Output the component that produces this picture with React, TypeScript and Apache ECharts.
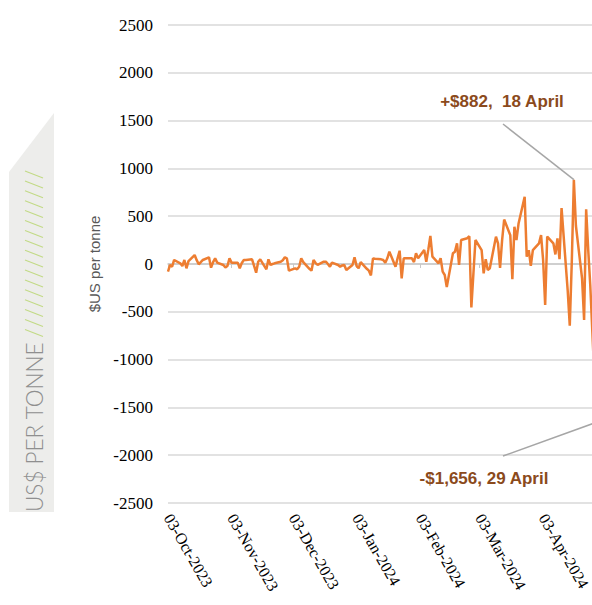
import React, { useEffect, useRef } from "react";
import * as echarts from "echarts";

// ---- data (US$ per tonne, daily weekday values) ----
const octDays = [3, 4, 5, 6, 9, 10, 11, 12, 13, 16, 17, 18, 19, 20, 23, 24, 25, 26, 27, 30, 31];
const octVals = [-80, -10, -28, 42, 7, -21, 42, -45, 30, 94, 40, -3, 20, 42, 70, -38, 20, 59, 14, -10, -35];

const novDays = [1, 2, 3, 6, 7, 8, 9, 10, 13, 14, 15, 16, 17, 20, 21, 22, 23, 24, 27, 28, 29, 30];
const novVals = [-21, 59, 14, 14, -45, 10, 42, 42, 49, -20, -91, 24, 49, -56, 49, -10, 0, 7, 24, 40, 70, 59];

const decDays = [1, 4, 5, 6, 7, 8, 11, 12, 13, 14, 15, 18, 19, 20, 21, 22, 25, 26, 27, 28, 29];
const decVals = [-70, -45, -56, -28, 59, 20, -50, -70, 42, 10, -10, 24, 24, 0, -28, 14, -10, -28, -15, -10, -63];

const janDays = [1, 2, 3, 4, 5, 8, 9, 10, 11, 12, 15, 16, 17, 18, 19, 22, 23, 24, 25, 26, 29, 30, 31];
const janVals = [-10, 70, -20, -45, 20, -50, -70, -120, 59, 55, 49, 42, 14, 60, 129, -28, 59, 139, -150, 59, 59, 59, 20];

const febDays = [1, 2, 5, 6, 7, 8, 9, 12, 13, 14, 15, 16, 19, 20, 21, 22, 23, 26, 27, 28, 29];
const febVals = [112, 59, 146, 24, 150, 293, 77, 7, 60, -80, -115, -240, 112, 129, 216, -10, 251, 270, 290, -455, -98];

const marDays = [1, 4, 5, 6, 7, 8, 11, 12, 13, 14, 15, 18, 19, 20, 21, 22, 25, 26, 27, 28, 29];
const marVals = [251, 146, -98, 50, -63, -45, 286, 216, -40, 250, 465, 300, -160, 390, 251, 420, 704, 77, 146, -20, 146];

const aprDays = [1, 2, 3, 4, 5, 8, 9, 10, 11, 12, 15, 16, 17, 18, 19, 22, 23, 24, 25, 26, 29, 30];
const aprVals = [216, 303, 42, -429, 286, 216, 100, 268, 50, 585, -280, -645, 30, 882, 400, -150, -586, 572, 150, -220, -1656, -300];

// tick labels: the 3rd of each month
const tickDates = ["2023-10-03", "2023-11-03", "2023-12-03", "2024-01-03", "2024-02-03", "2024-03-03", "2024-04-03"];
const axisStart = "2023-10-03";
const axisEnd = "2024-05-31";

const yMin = -2500;
const yMax = 2500;
const yStep = 500;

// annotations
const annotHigh = { date: "2024-04-18", value: 882, label: "+$882,  18 April" };
const annotLow = { date: "2024-04-29", value: -1656, label: "-$1,656, 29 April" };

const MONTHS = ["Jan", "Feb", "Mar", "Apr", "May", "Jun", "Jul", "Aug", "Sep", "Oct", "Nov", "Dec"];

function iso(s: string) {
  const [y, m, d] = s.split("-").map(Number);
  return Date.UTC(y, m - 1, d);
}

function monthSeries(year: number, month: number, days: number[], vals: number[]) {
  return days.map((d, i) => [Date.UTC(year, month, d), vals[i]]);
}

const seriesData = [
  ...monthSeries(2023, 9, octDays, octVals),
  ...monthSeries(2023, 10, novDays, novVals),
  ...monthSeries(2023, 11, decDays, decVals),
  ...monthSeries(2024, 0, janDays, janVals),
  ...monthSeries(2024, 1, febDays, febVals),
  ...monthSeries(2024, 2, marDays, marVals),
  ...monthSeries(2024, 3, aprDays, aprVals),
];

function fmtDate(v: number) {
  const d = new Date(v);
  const dd = String(d.getUTCDate()).padStart(2, "0");
  return `${dd}-${MONTHS[d.getUTCMonth()]}-${d.getUTCFullYear()}`;
}

export default function App() {
  const ref = useRef<HTMLDivElement>(null);

  useEffect(() => {
    if (!ref.current) return;
    const chart = echarts.init(ref.current, null, { renderer: "svg" });
    const ticks = tickDates.map(iso);

    const hatch: any[] = [];
    for (let i = 0; i < 17; i++) {
      hatch.push({
        type: "line",
        shape: { x1: 25, y1: 171 + i * 9.9, x2: 43, y2: 178 + i * 9.9 },
        style: { stroke: "#c2da86", lineWidth: 1.1 },
        silent: true,
      });
    }

    chart.setOption({
      animation: false,
      backgroundColor: "#ffffff",
      grid: {
        left: 168,
        top: 25,
        bottom: 102,
        right: -70,
        containLabel: false,
        outerBoundsMode: "none",
      },
      xAxis: [
        {
          type: "value",
          min: iso(axisStart),
          max: iso(axisEnd),
          position: "bottom",
          axisLine: { show: false, onZero: false },
          axisTick: { show: false },
          splitLine: { show: false },
          axisLabel: {
            show: true,
            customValues: ticks,
            formatter: (v: number) => fmtDate(v),
            rotate: -60,
            margin: 12,
            fontFamily: "'Liberation Serif', 'Times New Roman', serif",
            fontSize: 16,
            color: "#000000",
            hideOverlap: false,
          },
        },
        {
          type: "value",
          min: iso(axisStart),
          max: iso(axisEnd),
          position: "bottom",
          axisLine: { show: true, onZero: true, lineStyle: { color: "#c8c8c8", width: 1.5 } },
          axisTick: { show: true, customValues: ticks, length: 4, lineStyle: { color: "#c8c8c8", width: 1 } },
          axisLabel: { show: false },
          splitLine: { show: false },
        },
      ],
      yAxis: {
        type: "value",
        min: yMin,
        max: yMax,
        interval: yStep,
        name: "$US per tonne",
        nameLocation: "middle",
        nameRotate: 90,
        nameGap: 63,
        nameTextStyle: {
          fontFamily: "'Liberation Sans', Arial, sans-serif",
          fontSize: 15,
          color: "#595959",
        },
        axisLine: { show: false },
        axisTick: { show: false },
        axisLabel: {
          margin: 15,
          formatter: (v: number) => String(v),
          fontFamily: "'Liberation Serif', 'Times New Roman', serif",
          fontSize: 17,
          color: "#000000",
        },
        splitLine: { show: true, lineStyle: { color: "#d9d9d9", width: 1.5 } },
      },
      series: [
        {
          type: "line",
          xAxisIndex: 0,
          data: seriesData,
          showSymbol: false,
          symbol: "none",
          lineStyle: { color: "#ED7D31", width: 2.5 },
          itemStyle: { color: "#ED7D31" },
          z: 3,
          markLine: {
            silent: true,
            symbol: ["none", "none"],
            label: { show: false },
            lineStyle: { color: "#a6a6a6", width: 1.5, type: "solid" },
            data: [
              [{ coord: [iso(annotHigh.date), annotHigh.value] }, { x: 503, y: 124 }],
              [{ coord: [iso(annotLow.date), annotLow.value] }, { x: 503, y: 456 }],
            ],
          },
        },
      ],
      graphic: [
        {
          type: "polygon",
          shape: { points: [[9, 172], [54, 113], [54, 512], [9, 512]] },
          style: { fill: "#ededeb" },
          silent: true,
        },
        ...hatch,
        {
          type: "text",
          x: 34,
          y: 512,
          rotation: Math.PI / 2,
          style: {
            text: "US$ PER TONNE",
            fontFamily: "Lato, 'Open Sans', sans-serif",
            fontWeight: 300,
            fontSize: 22.5,
            fill: "#8f8f8f",
            align: "left",
            verticalAlign: "middle",
          },
          silent: true,
        },
        {
          type: "text",
          x: 502,
          y: 101,
          style: {
            text: annotHigh.label,
            fontFamily: "'Liberation Sans', Arial, sans-serif",
            fontWeight: "bold",
            fontSize: 17,
            fill: "#8B4A1C",
            align: "center",
            verticalAlign: "middle",
          },
          silent: true,
        },
        {
          type: "text",
          x: 484,
          y: 478,
          style: {
            text: annotLow.label,
            fontFamily: "'Liberation Sans', Arial, sans-serif",
            fontWeight: "bold",
            fontSize: 17,
            fill: "#8B4A1C",
            align: "center",
            verticalAlign: "middle",
          },
          silent: true,
        },
      ],
    });

    return () => chart.dispose();
  }, []);

  return (
    <div
      ref={ref}
      style={{ position: "fixed", left: 0, top: 0, width: 592, height: 605, background: "#fff" }}
    />
  );
}
